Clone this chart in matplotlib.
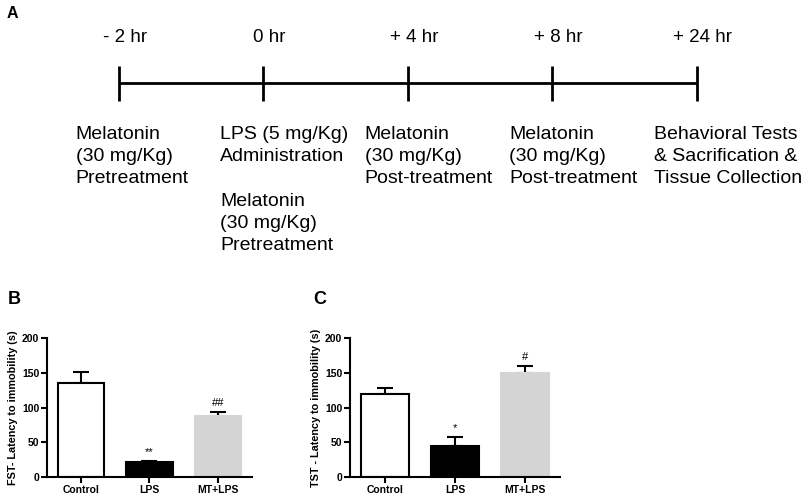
import numpy as np
import matplotlib
matplotlib.use("Agg")
import matplotlib.pyplot as plt

plt.rcParams["font.family"] = ["Liberation Sans", "DejaVu Sans"]

### data ###
time_labels = ["- 2 hr", "0 hr", "+ 4 hr", "+ 8 hr", "+ 24 hr"]
event_labels = [
    "Melatonin\n(30 mg/Kg)\nPretreatment",
    "LPS (5 mg/Kg)\nAdministration\n\nMelatonin\n(30 mg/Kg)\nPretreatment",
    "Melatonin\n(30 mg/Kg)\nPost-treatment",
    "Melatonin\n(30 mg/Kg)\nPost-treatment",
    "Behavioral Tests\n& Sacrification &\nTissue Collection",
]

groups = ["Control", "LPS", "MT+LPS"]
fst_mean = [135, 21, 88]
fst_sem = [16, 2, 6]
fst_sig = ["", "**", "##"]
tst_mean = [120, 45, 150]
tst_sem = [8, 12, 10]
tst_sig = ["", "*", "#"]
bar_colors = ["white", "black", "#d4d4d4"]
edge_colors = ["black", "black", "#d4d4d4"]

W, H = 804, 494
fig = plt.figure(figsize=(W / 100, H / 100), dpi=100)

# ---- panel A: timeline (one x unit per time point, y in pixels) ----
step = 144.5
x0 = 119
axa = fig.add_axes([0, 1 - 270 / H, 1, 270 / H])
axa.set_xlim(-x0 / step, (W - x0) / step)
axa.set_ylim(270, 0)
axa.axis("off")
pos = np.arange(len(time_labels))
axa.plot([pos[0], pos[-1]], [83, 83], color="black", lw=2.0, solid_capstyle="butt")
axa.vlines(pos, 66, 101, color="black", lw=2.0)
for p, t in zip(pos, time_labels):
    axa.text(p + 0.04, 38, t, ha="center", va="center", fontsize=13.5)
for p, t in zip(pos, event_labels):
    axa.text(p - 0.3, 126, t, ha="left", va="top", fontsize=14, linespacing=1.4)
fig.text(7 / W, 1 - 13 / H, "A", fontsize=11.5, fontweight="bold", va="center")


def bar_panel(left, right, mean, sem, sig, ylabel, letter, lx):
    ax = fig.add_axes([left / W, 1 - 477 / H, (right - left) / W, (477 - 338) / H])
    x = np.arange(len(groups))
    ax.bar(x, mean, width=0.68, color=bar_colors, edgecolor=edge_colors, linewidth=1.5, zorder=2)
    ax.errorbar(x, mean, yerr=[np.zeros(len(sem)), sem], fmt="none", ecolor="black",
                elinewidth=1.5, capsize=6, capthick=1.5, zorder=1)
    for xi, m, s, g in zip(x, mean, sem, sig):
        if g:
            ax.text(xi, m + s + 6, g, ha="center", va="bottom", fontsize=8)
    ax.set_xlim(-0.5, 2.5)
    ax.set_ylim(0, 200)
    ax.set_yticks([0, 50, 100, 150, 200])
    ax.set_xticks(x)
    ax.set_xticklabels(groups)
    ax.spines["top"].set_visible(False)
    ax.spines["right"].set_visible(False)
    for s in ["left", "bottom"]:
        ax.spines[s].set_linewidth(1.5)
    ax.tick_params(width=1.5, length=4, labelsize=7.5, pad=1.5)
    for lab in ax.get_xticklabels() + ax.get_yticklabels():
        lab.set_fontweight("bold")
    ax.set_ylabel(ylabel, fontsize=7.8, fontweight="bold", labelpad=3)
    fig.text(lx / W, 1 - 299 / H, letter, fontsize=13, fontweight="bold", va="center")
    return ax


bar_panel(47, 252, fst_mean, fst_sem, fst_sig, "FST- Latency to immobility (s)", "B", 8)
bar_panel(350, 560, tst_mean, tst_sem, tst_sig, "TST - Latency to immobility (s)", "C", 313)

fig.savefig("out.png", dpi=100)
